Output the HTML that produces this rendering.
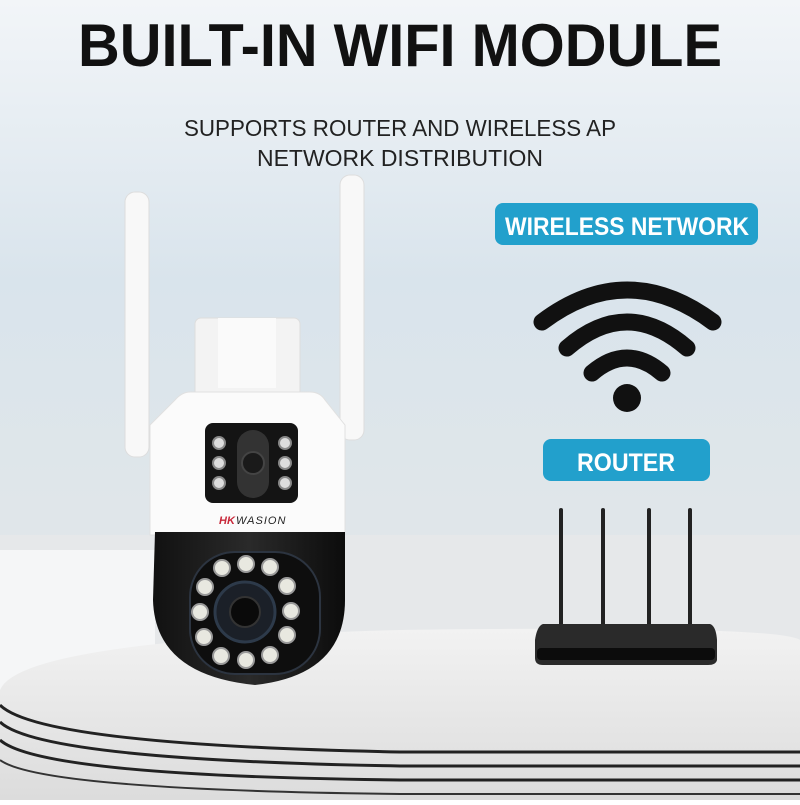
<!DOCTYPE html>
<html><head><meta charset="utf-8"><style>
body{margin:0;width:800px;height:800px;overflow:hidden;font-family:"Liberation Sans",sans-serif}
</style></head><body>
<svg width="800" height="800" viewBox="0 0 800 800" xmlns="http://www.w3.org/2000/svg">
<defs>
<linearGradient id="bg" x1="0" y1="0" x2="0" y2="1">
<stop offset="0" stop-color="#f2f5f8"/><stop offset="0.35" stop-color="#d9e4ec"/><stop offset="0.6" stop-color="#dfe6ea"/><stop offset="1" stop-color="#e8e8e8"/>
</linearGradient>
<linearGradient id="ped" x1="0" y1="0" x2="0" y2="1">
<stop offset="0" stop-color="#f2f2f2"/><stop offset="1" stop-color="#dcdcdc"/>
</linearGradient>
<linearGradient id="dome" x1="0" y1="0" x2="1" y2="0">
<stop offset="0" stop-color="#111"/><stop offset="0.5" stop-color="#2a2a2a"/><stop offset="1" stop-color="#0c0c0c"/>
</linearGradient>
</defs>
<rect width="800" height="800" fill="url(#bg)"/>
<rect x="0" y="535" width="800" height="130" fill="#e6e8ea"/>
<rect x="0" y="550" width="155" height="150" fill="#f5f6f7"/>
<!-- pedestal -->
<path d="M0 690 Q20 640 400 630 Q780 625 800 640 L800 800 L0 800 Z" fill="url(#ped)"/>
<path d="M0 705 Q40 745 400 752 L800 752" fill="none" stroke="#222" stroke-width="3"/>
<path d="M0 722 Q40 760 400 766 L800 766" fill="none" stroke="#222" stroke-width="3"/>
<path d="M0 740 Q40 776 400 780 L800 780" fill="none" stroke="#222" stroke-width="3"/>
<path d="M0 760 Q40 790 400 794 L800 794" fill="none" stroke="#333" stroke-width="2"/>
<!-- title -->
<text x="400" y="66" text-anchor="middle" font-family="Liberation Sans" font-weight="bold" font-size="60" fill="#111" textLength="644" lengthAdjust="spacingAndGlyphs">BUILT-IN WIFI MODULE</text>
<text x="400" y="136" text-anchor="middle" font-size="23" fill="#222" textLength="432" lengthAdjust="spacingAndGlyphs">SUPPORTS ROUTER AND WIRELESS AP</text>
<text x="400" y="166" text-anchor="middle" font-size="23" fill="#222" textLength="286" lengthAdjust="spacingAndGlyphs">NETWORK DISTRIBUTION</text>
<!-- badges -->
<rect x="495" y="203" width="263" height="42" rx="8" fill="#22a0cc"/>
<text x="627" y="235" text-anchor="middle" font-weight="bold" font-size="25" fill="#fff" textLength="244" lengthAdjust="spacingAndGlyphs">WIRELESS NETWORK</text>
<rect x="543" y="439" width="167" height="42" rx="8" fill="#22a0cc"/>
<text x="626" y="471" text-anchor="middle" font-weight="bold" font-size="25" fill="#fff" textLength="98" lengthAdjust="spacingAndGlyphs">ROUTER</text>
<!-- wifi -->
<g fill="none" stroke="#111" stroke-width="17" stroke-linecap="round">
<path d="M542 322 Q627 258 713 322"/>
<path d="M567 348 Q627 296 687 348"/>
<path d="M592 373 Q627 343 662 373"/>
</g>
<circle cx="627" cy="398" r="14" fill="#111"/>
<!-- router -->
<g stroke="#222" stroke-width="4" stroke-linecap="round">
<line x1="561" y1="510" x2="561" y2="625"/>
<line x1="603" y1="510" x2="603" y2="625"/>
<line x1="649" y1="510" x2="649" y2="625"/>
<line x1="690" y1="510" x2="690" y2="625"/>
</g>
<path d="M543 624 L710 624 Q716 626 717 640 L717 660 Q716 665 708 665 L543 665 Q535 665 535 658 L535 640 Q537 626 543 624 Z" fill="#2a2a2a"/>
<rect x="537" y="648" width="178" height="12" rx="4" fill="#0c0c0c"/>
<!-- camera antennas -->
<rect x="125" y="192" width="24" height="265" rx="10" fill="#f8f8f8" stroke="#ddd"/>
<rect x="340" y="175" width="24" height="265" rx="10" fill="#f8f8f8" stroke="#ddd"/>
<!-- mount -->
<rect x="195" y="318" width="105" height="80" rx="6" fill="#f3f3f3" stroke="#ddd"/>
<rect x="218" y="318" width="58" height="70" fill="#fafafa"/>
<!-- upper body -->
<path d="M190 392 L310 392 Q320 392 325 400 L345 425 L345 535 L150 535 L150 425 L175 400 Q182 392 190 392 Z" fill="#fbfbfb" stroke="#e0e0e0"/>
<rect x="205" y="423" width="93" height="80" rx="8" fill="#141414"/>
<rect x="237" y="430" width="32" height="68" rx="16" fill="#333"/>
<circle cx="253" cy="463" r="11" fill="#1a1a1a" stroke="#444" stroke-width="2"/>
<g fill="#ddd" stroke="#888" stroke-width="2">
<circle cx="219" cy="443" r="6"/><circle cx="219" cy="463" r="6"/><circle cx="219" cy="483" r="6"/>
<circle cx="285" cy="443" r="6"/><circle cx="285" cy="463" r="6"/><circle cx="285" cy="483" r="6"/>
</g>
<text x="219" y="524" font-size="11" font-style="italic" font-weight="bold" fill="#c8283a">HK</text>
<text x="236" y="524" font-size="11" font-style="italic" fill="#222" letter-spacing="1">WASION</text>
<!-- dome -->
<path d="M155 532 L345 532 L345 600 Q345 675 255 685 Q155 675 153 600 Z" fill="url(#dome)"/>
<rect x="190" y="552" width="130" height="122" rx="45" fill="#0e0e0e" stroke="#2c3440" stroke-width="2"/>
<circle cx="245" cy="612" r="30" fill="#1b2028" stroke="#2d3a4a" stroke-width="3"/>
<circle cx="245" cy="612" r="15" fill="#0a0a0a" stroke="#333" stroke-width="2"/>
<g fill="#e8e8e0" stroke="#999" stroke-width="2">
<circle cx="222" cy="568" r="8"/><circle cx="246" cy="564" r="8"/><circle cx="270" cy="567" r="8"/>
<circle cx="205" cy="587" r="8"/><circle cx="287" cy="586" r="8"/>
<circle cx="200" cy="612" r="8"/><circle cx="291" cy="611" r="8"/>
<circle cx="204" cy="637" r="8"/><circle cx="287" cy="635" r="8"/>
<circle cx="221" cy="656" r="8"/><circle cx="246" cy="660" r="8"/><circle cx="270" cy="655" r="8"/>
</g>
</svg>
</body></html>
